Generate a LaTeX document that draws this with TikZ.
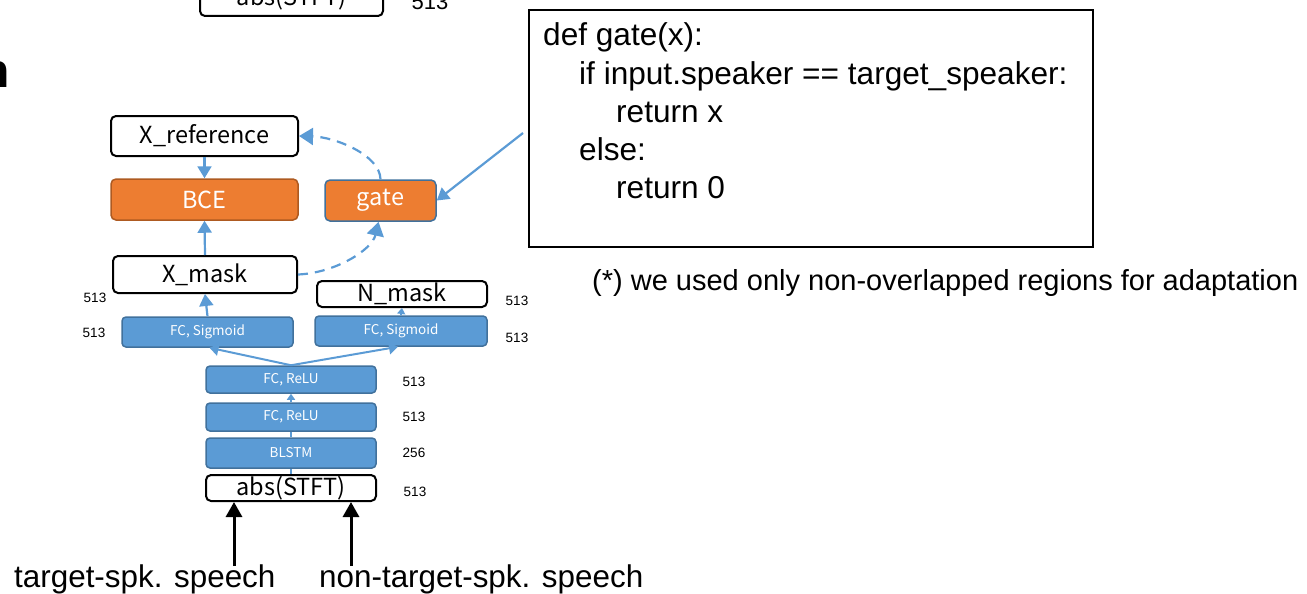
\documentclass[tikz,border=0pt]{standalone}
\usepackage{fontspec}
\setmainfont{Liberation Sans}
\newfontfamily\jpfont{Noto Sans CJK JP}
\usetikzlibrary{arrows.meta}
\definecolor{accblue}{HTML}{5B9BD5}
\definecolor{accblueD}{HTML}{41719C}
\definecolor{accorange}{HTML}{ED7D31}
\definecolor{accorangeD}{HTML}{AE5A21}
\tikzset{
  wbox/.style={draw=black, line width=2pt, rounded corners=5pt, fill=white, inner sep=0pt,
    font=\jpfont\fontsize{23.5}{24}\selectfont},
  bbox/.style={draw=accblueD, line width=1.5pt, rounded corners=4pt, fill=accblue, text=white,
    inner sep=0pt, font=\jpfont\fontsize{13.5}{14}\selectfont},
  obox/.style={fill=accorange, text=white, rounded corners=5pt, line width=1.5pt, inner sep=0pt,
    font=\jpfont\fontsize{23.5}{24}\selectfont},
  num/.style={font=\fontsize{13.5}{14}\selectfont, inner sep=0pt},
  codeline/.style={anchor=base west, inner sep=0pt, font=\fontsize{31.6}{32}\selectfont},
  bigtxt/.style={anchor=base west, inner sep=0pt, font=\fontsize{31.4}{32}\selectfont},
  barrow/.style={-{Triangle[length=12pt,width=14pt]}, accblue, line width=2.2pt},
  marrow/.style={-{Triangle[length=9pt,width=12pt]}, accblue, line width=2pt},
  sarrow/.style={-{Triangle[length=6pt,width=8pt]}, accblue, line width=1.8pt},
  thinline/.style={accblue, line width=1.8pt},
  dasharrow/.style={-{Triangle[length=14pt,width=17pt]}, accblue, line width=2.2pt, dash pattern=on 10pt off 7pt},
  karrow/.style={-{Triangle[length=15pt,width=16pt]}, black, line width=3pt},
}
\begin{document}
\begin{tikzpicture}[x=1pt,y=-1pt]
\useasboundingbox (0,0) rectangle (1307,594);
% partial items at the top / left edge
\node[wbox, minimum width=183pt, minimum height=36pt] (topstft) at (291.5,-2) {abs(STFT)};
\node[anchor=base, inner sep=0pt, font=\fontsize{22}{22}\selectfont] (topnum) at (430,10) {513};
\node[anchor=base east, inner sep=0pt, font=\bfseries\fontsize{48}{48}\selectfont] (ntitle) at (10,88) {n};
% upper part
\node[wbox, minimum width=187pt, minimum height=40pt] (xref) at (204.5,136) {X\_reference};
\node[obox, draw=accorangeD, minimum width=187pt, minimum height=41pt] (bce) at (204.5,199.5) {BCE};
\node[obox, draw=accblueD, minimum width=111pt, minimum height=41pt] (gate) at (380.5,200.5) {gate};
\node[wbox, minimum width=184pt, minimum height=37pt] (xmask) at (205,274.5) {X\_mask};
\node[wbox, minimum width=170pt, minimum height=26pt] (nmask) at (402,294) {N\_mask};
% network stack
\node[bbox, minimum width=171pt, minimum height=30pt] (sigL) at (207.5,332) {FC, Sigmoid};
\node[bbox, minimum width=172pt, minimum height=30pt] (sigR) at (401,331) {FC, Sigmoid};
\node[bbox, minimum width=170pt, minimum height=27pt] (relu2) at (291,379.5) {FC, ReLU};
\node[bbox, minimum width=170pt, minimum height=28pt] (relu1) at (291,417) {FC, ReLU};
\node[bbox, minimum width=170pt, minimum height=30pt] (blstm) at (291,453) {BLSTM};
\node[wbox, minimum width=170pt, minimum height=26pt] (stft) at (291,488) {abs(STFT)};
% dimension labels
\node[num] (n1) at (95,298) {513};
\node[num] (n2) at (94,333) {513};
\node[num] (n3) at (517,301) {513};
\node[num] (n4) at (517,338) {513};
\node[num] (n5) at (414,382) {513};
\node[num] (n6) at (414,417) {513};
\node[num] (n7) at (414,453) {256};
\node[num] (n8) at (415,492) {513};
% code box
\node[draw=black, line width=2pt, minimum width=564.5pt, minimum height=237pt, inner sep=0pt] (code) at (810.75,128.5) {};
\node[codeline] (c1) at (543,46) {def gate(x):};
\node[codeline] (c2) at (579,84.5) {if input.speaker == target\_speaker:};
\node[codeline] (c3) at (616,122.5) {return x};
\node[codeline] (c4) at (579,160.5) {else:};
\node[codeline] (c5) at (616,198.5) {return 0};
\node[anchor=base west, inner sep=0pt, font=\fontsize{29}{30}\selectfont] (note) at (592,290) {(*) we used only non-overlapped regions for adaptation};
% inputs
\node[bigtxt] (lab1) at (14,587) {target-spk. speech};
\node[bigtxt] (lab2) at (319,587) {non-target-spk. speech};
\coordinate (s1) at (234,566);
\coordinate (s2) at (351,566);
\draw[karrow] (s1) -- (s1 |- stft.south);
\draw[karrow] (s2) -- (s2 |- stft.south);
% stack connectors
\draw[thinline] (stft.north) -- (blstm.south);
\draw[thinline] (blstm.north) -- (relu1.south);
\draw[sarrow] (relu1.north) -- (relu2.south);
\draw[marrow] (relu2.north) -- ([xshift=2pt]sigL.south);
\draw[marrow] (relu2.north) -- ([xshift=-3pt]sigR.south);
\draw[barrow] (sigL.north) -- (xmask.south);
\draw[sarrow] (sigR.north) -- (nmask.south);
\draw[barrow] (xmask.north) -- (bce.south);
\draw[barrow] (xref.south) -- (bce.north);
% gate connectors
\coordinate (cg) at (523,133);
\draw[barrow] (cg) -- (gate.east);
\draw[dasharrow] (xmask.east) .. controls (335,273) and (372,250) .. ([xshift=-2pt]gate.south);
\draw[dasharrow] (gate.north) .. controls (380,155) and (335,137) .. (xref.east);
\end{tikzpicture}
\end{document}
